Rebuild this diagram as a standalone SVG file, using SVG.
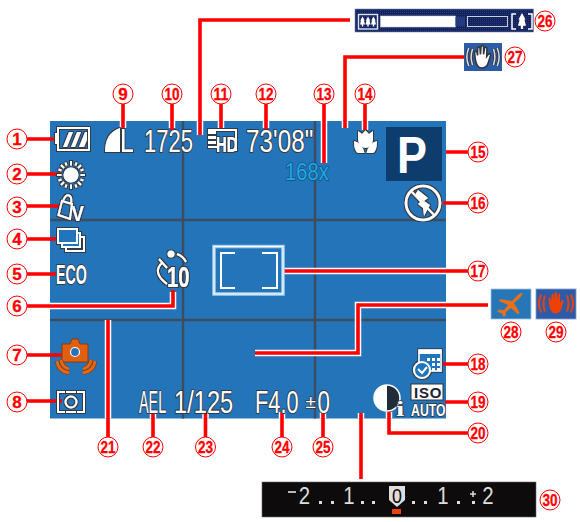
<svg xmlns="http://www.w3.org/2000/svg" xmlns:xlink="http://www.w3.org/1999/xlink" width="580" height="522" viewBox="0 0 580 522">
<style>
text{font-family:"Liberation Sans",Arial,sans-serif}
.n{fill:#fff;stroke:#f00;stroke-width:1}
.nt{fill:#f00;font-weight:700;font-size:17px;text-anchor:middle;stroke:#f00;stroke-width:.3}
.h{fill:none;stroke:#fff;stroke-width:6.500}
.r{fill:none;stroke:#f00;stroke-width:3.600}
.g{stroke:#3e4c60;stroke-width:2.400}
.t{fill:#fff;stroke:#333a44;stroke-width:2.200;paint-order:stroke;stroke-linejoin:round;font-size:32px}
.w{fill:#fff}
.wl{fill:none;stroke:#fff;stroke-width:2}
.d{fill:#ddd;font-size:24px;text-anchor:middle}
</style>
<defs>
<filter id="o" x="-20%" y="-20%" width="140%" height="140%">
<feMorphology in="SourceAlpha" operator="dilate" radius="1.100" result="d"/>
<feFlood flood-color="#333a44"/>
<feComposite in2="d" operator="in" result="e"/>
<feMerge><feMergeNode in="e"/><feMergeNode in="SourceGraphic"/></feMerge>
</filter>
<path id="hand" d="M-7,1 L-7.500,-5 Q-6.500,-7 -5.200,-5 L-4.700,-2 L-4.600,-9 Q-3.400,-11 -2.400,-9 L-2,-3 L-1.400,-10.500 Q0,-12.500 1,-10.500 L1,-3 L2,-9 Q3.300,-11 4.200,-9 L4,-1 L5.500,-3 Q7.500,-4.500 7.700,-2 L5.500,5 Q4,10 -1,10 Q-5.500,10 -7,1Z"/>
<g id="arcs" fill="none">
<path d="M-11,-8 Q-14,0 -11,8M-15,-9 Q-19,0 -15,9M11,-8 Q14,0 11,8M15,-9 Q19,0 15,9"/>
</g>
<path id="tree" d="M0,-5 L2.200,-1 L1.500,-1 L2.500,3 L.7,3 L.7,5 L-.7,5 L-.7,3 L-2.500,3 L-1.500,-1 L-2.200,-1Z"/>
<pattern id="dots" width="2" height="2" patternUnits="userSpaceOnUse"><rect width="2" height="2" fill="#12225c"/><rect width="1" height="1" fill="#2a3a78"/></pattern>
</defs>

<g id="screen">
<rect x="50" y="121" width="396" height="297.500" fill="#2474ba"/>
<path class="g" d="M183,121V418.500M315,121V418.500M50,220H446M50,320H446"/>
</g>

<g id="connectors">
<g>
<path class="h" d="M50,306H173V292"/>
<path class="h" d="M108,320V418.500"/>
<path class="h" d="M255,353H358V305H446"/>
<path class="h" d="M361,413V418.500"/>
<path class="h" d="M283,271H446"/>
<path class="h" d="M200,135V121M345,128V121M123,128V121M172,128V121M221,128V121M266,128V121M324,163V121M365,130V121"/>
<path class="h" d="M153,412V418.500M205.500,412V418.500M282,412V418.500M323,412V418.500"/>
<path class="h" d="M389,412V418.500"/>
</g>
<g>
<path class="r" d="M27,139H60M27,174H62M27,206H60M27,239H57M27,274H56M27,306H173V290M27,355H64M27,401H62"/>
<path class="r" d="M123,104V130M172,104V130M221,104V130M266,104V130M324,104V163M365,104V130"/>
<path class="r" d="M200,135V20H350M345,128V57H465"/>
<path class="r" d="M446,152H468M443,203H468M283,271H468M443,364H468M445,402H468M468,433H389V411"/>
<path class="r" d="M108,320V437M153,412V437M205.500,412V437M282,412V437M323,412V437M361,413V479"/>
<path class="r" d="M255,353H358V305H488"/>
</g>
</g>

<g id="icons">
<g id="battery" filter="url(#o)">
<path class="w" d="M55,133h3v11h-3z"/>
<rect x="58" y="128" width="31" height="22" class="wl"/>
<path class="w" d="M63,147l6,-15h4l-6,15zM71,147l6,-15h4l-6,15zM79,147l6,-15h2l0,8-3,7z"/>
</g>
<g id="sun" filter="url(#o)">
<circle cx="71" cy="175" r="7.500" class="w"/>
<path class="wl" stroke-width="1.600" d="M71,161v4.500M71,184.500v4.500M57,175h4.500M80.500,175h4.500M61,165l3,3M78,182l3,3M61,185l3,-3M78,168l3,-3M65.500,162.500l1,3M75.500,184.500l1,3M65.500,187.500l1,-3M75.500,165.500l1,-3M58.500,169.500l3,1M80.500,179.500l3,1M58.500,180.500l3,-1M80.500,170.500l3,-1"/>
</g>
<g id="wb" filter="url(#o)">
<path class="wl" stroke-width="1.800" d="M58.500,215L62,201L72,204L70,219ZM63,201Q66,193 70,196Q72,198 71,204"/>
<text x="71.500" y="221" class="w" font-size="22" font-weight="700" transform="translate(71.500 221) scale(.85 1) translate(-71.500 -221)">V</text>
</g>
<g id="drive" filter="url(#o)">
<rect x="66" y="237" width="18" height="14" class="wl"/>
<rect x="62" y="233" width="18" height="14" fill="#2474ba" stroke="#fff" stroke-width="2"/>
<rect x="58" y="229" width="19" height="14" fill="#2474ba" stroke="#fff" stroke-width="2"/>
</g>
<text id="eco" class="t" transform="translate(56 284) scale(.53 1)" style="font-size:27px;font-weight:700">ECO</text>
<g id="timer" filter="url(#o)">
<circle cx="171" cy="254" r="3.500" class="w"/>
<path class="wl" d="M177,254Q183,256 186,262M159,259L167,268M163,262Q151,272 167,284"/>
<text class="w" transform="translate(167 287) scale(.68 1)" style="font-size:30px;font-weight:700">10</text>
</g>
<g id="stabilize-camera">
<path d="M62,344H70L72,339H78L80,344H88V362H62Z" fill="#e05f10" stroke="#8b3a0a" stroke-width="1"/>
<circle cx="75" cy="352" r="4.500" fill="#2474ba" stroke="#fff" stroke-width="1.200"/>
<path d="M57,361Q58,371 69,373M61,360Q62,367 69,369M95,361Q94,371 83,373M91,360Q90,367 83,369" fill="none" stroke="#8b3a0a" stroke-width="4"/>
<path d="M57,361Q58,371 69,373M61,360Q62,367 69,369M95,361Q94,371 83,373M91,360Q90,367 83,369" fill="none" stroke="#e8670f" stroke-width="2.800"/>
</g>
<g id="metering" filter="url(#o)">
<path class="wl" d="M65,392H58V412H65M77,392H84V412H77"/>
<circle cx="71" cy="402" r="5.500" class="wl"/>
<path class="wl" d="M66,392H76M66,412H76" stroke-width="1"/>
</g>
<g id="quality" filter="url(#o)">
<path class="w" d="M105,152Q105,133 120,128V152Z"/>
<text class="w" transform="translate(120 152) scale(.75 1)" style="font-size:33px">L</text>
</g>
<text id="shots" class="t" transform="translate(144 152) scale(.69 1)">1725</text>
<g id="movie" filter="url(#o)">
<path class="wl" stroke-width="1.800" d="M209,130H236V150H229"/>
<path class="w" d="M208,129h8v5h-8zM208,136h8v3h-8zM208,141h8v3h-8zM208,146h10v2h-10z"/>
<text class="w" transform="translate(216 152) scale(.68 1)" style="font-size:22px;font-weight:700">HD</text>
</g>
<text id="time" class="t" transform="translate(246 152) scale(.76 1)">73'08"</text>
<text id="zoomx" fill="#1fa9e0" stroke="#14507f" stroke-width="1.600" stroke-linejoin="round" transform="translate(285 180) scale(.84 1)" style="font-size:24px;paint-order:stroke">168x</text>
<g id="macro" filter="url(#o)">
<path class="w" d="M358,131L362,134L365.500,130.500L369,134L373,131V140Q372,147 365.500,148Q359,147 358,140Z"/>
<path class="w" d="M354,141Q362,143 364.500,153H358Q354,151 354,141ZM377,141Q369,143 366.500,153H373Q377,151 377,141Z"/>
</g>
<g id="mode">
<rect x="386" y="127" width="56" height="54" fill="#0e3d6d"/>
<text class="w" transform="translate(397 173) scale(.88 1)" style="font-size:51px;font-weight:700">P</text>
</g>
<g id="flash" filter="url(#o)">
<circle cx="423" cy="203" r="17" fill="none" stroke="#fff" stroke-width="2.600"/>
<path class="wl" stroke-width="2.500" d="M411,191L435,216"/>
<path class="w" d="M418,190L428,198L424,201L430,205L424,216L423,208L418,204L421,201L415,195Z"/>
</g>
<g id="frame" fill="none">
<rect x="214" y="246.500" width="69" height="47.500" stroke="#a6d0ef" stroke-width="3.500"/>
<rect x="214" y="246.500" width="69" height="47.500" stroke="#fff" stroke-width="1"/>
<path stroke="#fff" stroke-width="2" d="M235,253H221V288H235M262,253H277V288H262"/>
</g>
<g id="date" filter="url(#o)">
<rect x="419" y="350" width="22" height="21" fill="#2474ba" stroke="#fff" stroke-width="1.500"/>
<path class="w" d="M419,350h22v4h-22zM427,358h3v3h-3zM432,358h3v3h-3zM437,358h3v3h-3zM432,363h3v3h-3zM437,363h3v3h-3zM432,368h3v3h-3zM437,368h3v3h-3z"/>
<circle cx="422" cy="370" r="8" fill="#2474ba" stroke="#fff" stroke-width="2"/>
<path class="wl" stroke-width="1.500" d="M418,369l4,4l5,-6"/>
</g>
<g id="iso">
<rect x="411" y="384" width="32" height="16" fill="#fff" stroke="#333" stroke-width="1"/>
<text fill="#223" transform="translate(414 398)" style="font-size:15px;font-weight:700;letter-spacing:.8px">ISO</text>
<text class="t" transform="translate(411 416) scale(.77 1)" style="font-size:16px;font-weight:700;stroke-width:1.800">AUTO</text>
</g>
<g id="contrast">
<circle cx="387" cy="398" r="13" fill="#222c38"/>
<path d="M387,385A13,13 0 0 0 387,411Z" fill="#fff"/>
<circle cx="387" cy="398" r="13" fill="none" stroke="#fff" stroke-width="1.500"/>
<text class="t" transform="translate(396 416) scale(1.500 1)" style="font-size:20px;font-weight:700;stroke-width:1.500;font-family:'Liberation Serif',serif">i</text>
</g>
<text id="ael" class="t" transform="translate(139 413) scale(.45 1)">AEL</text>
<text id="shutter" class="t" transform="translate(174 413) scale(.74 1)">1/125</text>
<text id="aperture" class="t" transform="translate(255 413) scale(.68 1)">F4.0</text>
<text id="expo" class="t" transform="translate(305.500 408)" style="font-size:19px;stroke-width:1.600">±</text>
<text id="expo0" class="t" transform="translate(317.500 413) scale(.7 1)">0</text>

<g id="zoombar">
<rect x="355" y="9" width="178.500" height="23" fill="url(#dots)" stroke="#7a8ab0" stroke-width=".6"/>
<rect x="358.500" y="14.500" width="19" height="14.500" fill="none" stroke="#dfe5f0" stroke-width="1.400"/>
<g fill="#fff"><use href="#tree" x="362.500" y="21.500"/><use href="#tree" x="368" y="21.500"/><use href="#tree" x="373.500" y="21.500"/></g>
<rect x="380.500" y="16" width="75" height="11" fill="#fff" stroke="#c8d0e0" stroke-width=".6"/>
<rect x="455.500" y="17" width="9.500" height="9" fill="#213c7e"/>
<rect x="467.500" y="16.500" width="40" height="10" fill="url(#dots)" stroke="#c8d0e0" stroke-width="1"/>
<path d="M516,14H512V29H516M528,14H532V29H528" fill="none" stroke="#fff" stroke-width="1.500"/>
<use href="#tree" transform="translate(522 21) scale(1.600)" fill="#fff"/>
</g>
<g id="shake1">
<rect x="464" y="43" width="38" height="28" fill="#2c5ca6"/>
<use href="#arcs" transform="translate(483 57) scale(.95 1)" stroke="#30353f" stroke-width="3.500"/>
<use href="#arcs" transform="translate(483 57) scale(.95 1)" stroke="#d8dce4" stroke-width="1.600"/>
<use href="#hand" transform="translate(482.500 57.500) scale(1.050)" fill="#fff" stroke="#30353f" stroke-width="1.500"/>
</g>
<g id="shake2">
<rect x="491" y="289" width="40" height="30" fill="#2776b8" stroke="#9cc4e4" stroke-width=".8"/>
<path fill="#e8701a" d="M522.500,293Q519,293 516,297L512,301L500,299L499,301L508,305L504,310L499,309.500L497,311.500L502,313.500L503.500,317L506,315.500L505.500,312.500L511,308L518,314.500L519.500,312.500L514,303L520,298Q523,294 522.500,293Z"/>
</g>
<g id="shake3">
<rect x="536" y="289" width="40" height="30" fill="#2f5aa8" stroke="#7f9ccc" stroke-width=".8"/>
<use href="#arcs" transform="translate(556 303.500)" stroke="#e8420e" stroke-width="2"/>
<use href="#hand" transform="translate(556 303.500)" fill="#ec4208"/>
</g>

<g id="exposure">
<rect x="262" y="482" width="274" height="35" fill="#0d0b0c" stroke="#666" stroke-width=".6"/>
<path d="M288,492h8" stroke="#ccc" stroke-width="1.800"/>
<text class="d" transform="translate(304.500 504) scale(.85 1)">2</text>
<text class="d" transform="translate(349 504) scale(.85 1)">1</text>
<text class="d" transform="translate(443 504) scale(.85 1)">1</text>
<text class="d" transform="translate(488 504) scale(.85 1)">2</text>
<path d="M389,486H405V500L397,507L389,500Z" fill="#ddd"/>
<text fill="#0d0b0c" text-anchor="middle" transform="translate(397 503) scale(.85 1)" style="font-size:21px">0</text>
<path fill="#ddd" d="M319,501h3v3h-3zM331,501h3v3h-3zM361,501h3v3h-3zM372,501h3v3h-3zM412,501h3v3h-3zM424,501h3v3h-3zM457,501h3v3h-3zM472,501h3v3h-3z"/>
<path stroke="#ddd" stroke-width="1.500" fill="none" d="M470,494h6M473,491v6"/>
<rect x="392" y="509" width="9" height="5" fill="#e8420e"/>
</g>
</g>

<g id="badges">
<g id="b1"><circle class="n" cx="17" cy="139" r="10"/><text class="nt" x="17" y="145">1</text></g>
<g id="b2"><circle class="n" cx="17" cy="174" r="10"/><text class="nt" x="17" y="180">2</text></g>
<g id="b3"><circle class="n" cx="17" cy="207" r="10"/><text class="nt" x="17" y="213">3</text></g>
<g id="b4"><circle class="n" cx="17" cy="239" r="10"/><text class="nt" x="17" y="245">4</text></g>
<g id="b5"><circle class="n" cx="17" cy="274" r="10"/><text class="nt" x="17" y="280">5</text></g>
<g id="b6"><circle class="n" cx="17" cy="306" r="10"/><text class="nt" x="17" y="312">6</text></g>
<g id="b7"><circle class="n" cx="17" cy="355" r="10"/><text class="nt" x="17" y="361">7</text></g>
<g id="b8"><circle class="n" cx="17" cy="402" r="10"/><text class="nt" x="17" y="408">8</text></g>
<g id="b9"><circle class="n" cx="123" cy="94" r="10"/><text class="nt" x="123" y="100">9</text></g>
<g id="b10"><circle class="n" cx="172" cy="94" r="10"/><text class="nt" x="172" y="100" textLength="15" lengthAdjust="spacingAndGlyphs">10</text></g>
<g id="b11"><circle class="n" cx="221" cy="94" r="10"/><text class="nt" x="221" y="100" textLength="15" lengthAdjust="spacingAndGlyphs">11</text></g>
<g id="b12"><circle class="n" cx="266" cy="94" r="10"/><text class="nt" x="266" y="100" textLength="15" lengthAdjust="spacingAndGlyphs">12</text></g>
<g id="b13"><circle class="n" cx="324" cy="94" r="10"/><text class="nt" x="324" y="100" textLength="15" lengthAdjust="spacingAndGlyphs">13</text></g>
<g id="b14"><circle class="n" cx="365" cy="94" r="10"/><text class="nt" x="365" y="100" textLength="15" lengthAdjust="spacingAndGlyphs">14</text></g>
<g id="b15"><circle class="n" cx="478" cy="152" r="10"/><text class="nt" x="478" y="158" textLength="15" lengthAdjust="spacingAndGlyphs">15</text></g>
<g id="b16"><circle class="n" cx="478" cy="203" r="10"/><text class="nt" x="478" y="209" textLength="15" lengthAdjust="spacingAndGlyphs">16</text></g>
<g id="b17"><circle class="n" cx="478" cy="271" r="10"/><text class="nt" x="478" y="277" textLength="15" lengthAdjust="spacingAndGlyphs">17</text></g>
<g id="b18"><circle class="n" cx="478" cy="364" r="10"/><text class="nt" x="478" y="370" textLength="15" lengthAdjust="spacingAndGlyphs">18</text></g>
<g id="b19"><circle class="n" cx="478" cy="402" r="10"/><text class="nt" x="478" y="408" textLength="15" lengthAdjust="spacingAndGlyphs">19</text></g>
<g id="b20"><circle class="n" cx="478" cy="433" r="10"/><text class="nt" x="478" y="439" textLength="15" lengthAdjust="spacingAndGlyphs">20</text></g>
<g id="b21"><circle class="n" cx="108" cy="447" r="10"/><text class="nt" x="108" y="453" textLength="15" lengthAdjust="spacingAndGlyphs">21</text></g>
<g id="b22"><circle class="n" cx="153" cy="447" r="10"/><text class="nt" x="153" y="453" textLength="15" lengthAdjust="spacingAndGlyphs">22</text></g>
<g id="b23"><circle class="n" cx="205.500" cy="447" r="10"/><text class="nt" x="205.500" y="453" textLength="15" lengthAdjust="spacingAndGlyphs">23</text></g>
<g id="b24"><circle class="n" cx="282" cy="447" r="10"/><text class="nt" x="282" y="453" textLength="15" lengthAdjust="spacingAndGlyphs">24</text></g>
<g id="b25"><circle class="n" cx="323" cy="447" r="10"/><text class="nt" x="323" y="453" textLength="15" lengthAdjust="spacingAndGlyphs">25</text></g>
<g id="b26"><circle class="n" cx="545" cy="21" r="10"/><text class="nt" x="545" y="27" textLength="15" lengthAdjust="spacingAndGlyphs">26</text></g>
<g id="b27"><circle class="n" cx="515" cy="57" r="10"/><text class="nt" x="515" y="63" textLength="15" lengthAdjust="spacingAndGlyphs">27</text></g>
<g id="b28"><circle class="n" cx="511" cy="332" r="10"/><text class="nt" x="511" y="338" textLength="15" lengthAdjust="spacingAndGlyphs">28</text></g>
<g id="b29"><circle class="n" cx="556" cy="332" r="10"/><text class="nt" x="556" y="338" textLength="15" lengthAdjust="spacingAndGlyphs">29</text></g>
<g id="b30"><circle class="n" cx="550" cy="500" r="10"/><text class="nt" x="550" y="506" textLength="15" lengthAdjust="spacingAndGlyphs">30</text></g>
</g>
</svg>
